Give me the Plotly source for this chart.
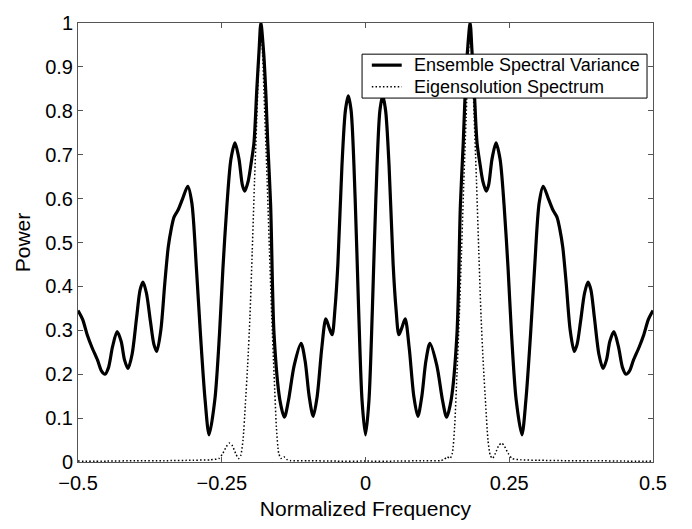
import plotly.graph_objects as go

# Ensemble Spectral Variance (solid)
ens_freq = [
    -0.500, -0.492, -0.484, -0.476, -0.466, -0.459, -0.453, -0.447, -0.440, -0.432,
    -0.425, -0.419, -0.413, -0.406, -0.398, -0.392, -0.387, -0.381, -0.374, -0.368,
    -0.363, -0.356, -0.349, -0.343, -0.338, -0.333, -0.326, -0.318, -0.309, -0.302,
    -0.294, -0.287, -0.279, -0.272, -0.262, -0.254, -0.248, -0.241, -0.234, -0.227,
    -0.220, -0.214, -0.210, -0.204, -0.199, -0.194, -0.189, -0.185, -0.182, -0.177,
    -0.173, -0.170, -0.165, -0.159, -0.149, -0.141, -0.134, -0.124, -0.112, -0.105,
    -0.098, -0.091, -0.084, -0.076, -0.069, -0.063, -0.058, -0.053, -0.048, -0.041,
    -0.035, -0.030, -0.025, -0.018, -0.012, -0.006, 0.000,
    0.006, 0.012, 0.018, 0.025, 0.030, 0.035, 0.041, 0.048, 0.053, 0.058,
    0.063, 0.069, 0.076, 0.084, 0.091, 0.098, 0.105, 0.112, 0.124, 0.134,
    0.141, 0.149, 0.159, 0.165, 0.170, 0.173, 0.177, 0.182, 0.185, 0.189,
    0.194, 0.199, 0.204, 0.210, 0.214, 0.220, 0.227, 0.234, 0.241, 0.248,
    0.254, 0.262, 0.272, 0.279, 0.287, 0.294, 0.302, 0.309, 0.318, 0.326,
    0.333, 0.338, 0.343, 0.349, 0.356, 0.363, 0.368, 0.374, 0.381, 0.387,
    0.392, 0.398, 0.406, 0.413, 0.419, 0.425, 0.432, 0.440, 0.447, 0.453,
    0.459, 0.466, 0.476, 0.484, 0.492, 0.500,
]
ens_power = [
    0.345, 0.325, 0.290, 0.262, 0.232, 0.207, 0.200, 0.215, 0.262, 0.297,
    0.275, 0.232, 0.213, 0.245, 0.330, 0.392, 0.410, 0.385, 0.320, 0.268,
    0.252, 0.300, 0.408, 0.490, 0.530, 0.558, 0.574, 0.600, 0.628, 0.590,
    0.440, 0.290, 0.142, 0.062, 0.142, 0.290, 0.440, 0.585, 0.690, 0.727,
    0.690, 0.630, 0.617, 0.640, 0.680, 0.727, 0.850, 0.940, 1.000, 0.930,
    0.830, 0.727, 0.585, 0.290, 0.142, 0.102, 0.140, 0.220, 0.270, 0.230,
    0.150, 0.104, 0.150, 0.260, 0.326, 0.305, 0.290, 0.350, 0.452, 0.674,
    0.800, 0.834, 0.800, 0.600, 0.350, 0.140, 0.062,
    0.140, 0.350, 0.600, 0.800, 0.834, 0.800, 0.674, 0.452, 0.350, 0.290,
    0.305, 0.326, 0.260, 0.150, 0.104, 0.150, 0.230, 0.270, 0.220, 0.140,
    0.102, 0.142, 0.290, 0.585, 0.727, 0.830, 0.930, 1.000, 0.940, 0.850,
    0.727, 0.680, 0.640, 0.617, 0.630, 0.690, 0.727, 0.690, 0.585, 0.440,
    0.290, 0.142, 0.062, 0.142, 0.290, 0.440, 0.590, 0.628, 0.600, 0.574,
    0.558, 0.530, 0.490, 0.408, 0.300, 0.252, 0.268, 0.320, 0.385, 0.410,
    0.392, 0.330, 0.245, 0.213, 0.232, 0.275, 0.297, 0.262, 0.215, 0.200,
    0.207, 0.232, 0.262, 0.290, 0.325, 0.345,
]

# Eigensolution Spectrum (dotted)
eig_freq = [
    -0.500, -0.450, -0.400, -0.350, -0.300, -0.270, -0.255, -0.248, -0.242, -0.237,
    -0.232, -0.226, -0.221, -0.217, -0.213, -0.209, -0.205, -0.201, -0.197, -0.193,
    -0.189, -0.185, -0.182, -0.179, -0.175, -0.171, -0.167, -0.163, -0.159, -0.155,
    -0.151, -0.147, -0.142, -0.137, -0.130, -0.100, -0.050, 0.000,
    0.050, 0.100, 0.130, 0.137, 0.142, 0.147, 0.151, 0.155, 0.159, 0.163,
    0.167, 0.171, 0.175, 0.179, 0.182, 0.185, 0.189, 0.193, 0.197, 0.201,
    0.205, 0.209, 0.213, 0.217, 0.221, 0.226, 0.232, 0.237, 0.242, 0.248,
    0.255, 0.270, 0.300, 0.350, 0.400, 0.450, 0.500,
]
eig_power = [
    0.002, 0.002, 0.003, 0.003, 0.004, 0.005, 0.008, 0.020, 0.035, 0.043,
    0.038, 0.020, 0.008, 0.015, 0.050, 0.130, 0.220, 0.330, 0.480, 0.640,
    0.785, 0.930, 1.000, 0.930, 0.785, 0.640, 0.480, 0.330, 0.200, 0.080,
    0.020, 0.008, 0.012, 0.006, 0.003, 0.003, 0.002, 0.002,
    0.002, 0.003, 0.003, 0.006, 0.012, 0.008, 0.020, 0.080, 0.200, 0.330,
    0.480, 0.640, 0.785, 0.930, 1.000, 0.930, 0.785, 0.640, 0.480, 0.330,
    0.220, 0.130, 0.050, 0.015, 0.008, 0.020, 0.038, 0.043, 0.035, 0.020,
    0.008, 0.005, 0.004, 0.003, 0.003, 0.002, 0.002,
]

series_names = ["Ensemble Spectral Variance", "Eigensolution Spectrum"]
x_ticks = [-0.5, -0.25, 0, 0.25, 0.5]
x_tick_labels = ["\u22120.5", "\u22120.25", "0", "0.25", "0.5"]
y_ticks = [0, 0.1, 0.2, 0.3, 0.4, 0.5, 0.6, 0.7, 0.8, 0.9, 1]
y_tick_labels = ["0", "0.1", "0.2", "0.3", "0.4", "0.5", "0.6", "0.7", "0.8", "0.9", "1"]

SOLID = dict(color="black", width=3.2)
DOTTED = dict(color="black", width=1.5, dash="1.5px,2.2px")

fig = go.Figure()
fig.add_trace(go.Scatter(
    x=ens_freq, y=ens_power, mode="lines", name=series_names[0],
    line=dict(**SOLID, shape="spline", smoothing=0.8), showlegend=False,
))
fig.add_trace(go.Scatter(
    x=eig_freq, y=eig_power, mode="lines", name=series_names[1],
    line=dict(**DOTTED, shape="spline", smoothing=0.6), showlegend=False,
))

# Legend box (drawn in paper coordinates, above the traces)
L_X0, L_X1, L_Y0, L_Y1 = 0.494, 0.9896, 0.829, 0.929
rows_y = [0.904, 0.855]
sample_x0, sample_x1, text_x = 0.511, 0.563, 0.580
fig.add_shape(type="rect", xref="paper", yref="paper", x0=L_X0, x1=L_X1, y0=L_Y0, y1=L_Y1,
              line=dict(color="black", width=1), fillcolor="white", layer="above")
for name, style, ry in zip(series_names, [SOLID, DOTTED], rows_y):
    fig.add_shape(type="line", xref="paper", yref="paper", x0=sample_x0, x1=sample_x1,
                  y0=ry, y1=ry, line=style, layer="above")
    fig.add_annotation(xref="paper", yref="paper", x=text_x, y=ry, text=name,
                       showarrow=False, xanchor="left", yanchor="middle",
                       font=dict(size=18, color="black"))

axis_common = dict(
    showgrid=False, zeroline=False, showline=True, linecolor="#555555", linewidth=1,
    mirror="ticks", ticks="inside", ticklen=5, tickcolor="#555555",
    tickfont=dict(size=20, color="black"),
)
fig.update_layout(
    width=692, height=529,
    margin=dict(l=78, r=39, t=13, b=65),
    paper_bgcolor="white", plot_bgcolor="white",
    font=dict(family="Liberation Sans, Arial, sans-serif", color="black"),
    xaxis=dict(range=[-0.5, 0.5], tickvals=x_ticks, ticktext=x_tick_labels,
               ticklabelstandoff=3,
               title=dict(text="Normalized Frequency", font=dict(size=21), standoff=8),
               **axis_common),
    yaxis=dict(range=[0, 1], tickvals=y_ticks, ticktext=y_tick_labels,
               title=dict(text="Power", font=dict(size=21), standoff=8),
               **axis_common),
    showlegend=False,
)

fig.write_html("out.html")
